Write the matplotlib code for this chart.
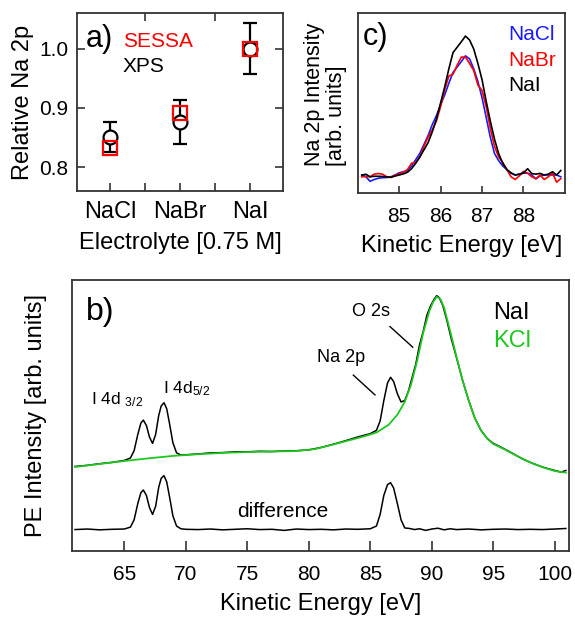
import numpy as np
import matplotlib.pyplot as plt

plt.rcParams['font.family'] = ['Liberation Sans', 'DejaVu Sans']
plt.rcParams['mathtext.fontset'] = 'custom'
plt.rcParams['mathtext.rm'] = 'Liberation Sans'
plt.rcParams['mathtext.it'] = 'Liberation Sans'

# ---- a) relative Na 2p signal vs electrolyte
salts = ['NaCl', 'NaBr', 'NaI']
xps_rel = [0.851, 0.877, 1.000]
xps_err = [0.025, 0.037, 0.043]
sessa_rel = [0.832, 0.891, 1.000]

# ---- c) Na 2p region, normalised spectra
c_ev = [84.1, 84.2, 84.3, 84.4, 84.5, 84.6, 84.7, 84.8, 84.9, 85.0,
        85.1, 85.2, 85.3, 85.4, 85.5, 85.6, 85.7, 85.8, 85.9, 86.0,
        86.1, 86.2, 86.3, 86.4, 86.5, 86.6, 86.7, 86.8, 86.9, 87.0,
        87.1, 87.2, 87.3, 87.4, 87.5, 87.6, 87.7, 87.8, 87.9, 88.0,
        88.1, 88.2, 88.3, 88.4, 88.5, 88.6, 88.7, 88.8, 88.9]
c_nacl = [0.100, 0.090, 0.065, 0.075, 0.082, 0.085, 0.086, 0.090, 0.100, 0.112,
          0.118, 0.124, 0.150, 0.185, 0.220, 0.270, 0.320, 0.380, 0.430, 0.490,
          0.545, 0.610, 0.670, 0.700, 0.730, 0.762, 0.745, 0.690, 0.620, 0.530,
          0.420, 0.310, 0.220, 0.180, 0.150, 0.130, 0.110, 0.100, 0.105, 0.110,
          0.110, 0.100, 0.078, 0.095, 0.100, 0.100, 0.100, 0.100, 0.090]
c_nabr = [0.090, 0.092, 0.090, 0.105, 0.108, 0.105, 0.090, 0.087, 0.098, 0.106,
          0.115, 0.130, 0.165, 0.170, 0.200, 0.260, 0.310, 0.350, 0.400, 0.480,
          0.575, 0.650, 0.660, 0.710, 0.755, 0.755, 0.720, 0.680, 0.600, 0.570,
          0.480, 0.360, 0.260, 0.200, 0.170, 0.130, 0.090, 0.075, 0.095, 0.120,
          0.110, 0.090, 0.080, 0.100, 0.075, 0.090, 0.110, 0.060, 0.080]
c_nai = [0.100, 0.104, 0.090, 0.093, 0.093, 0.092, 0.090, 0.087, 0.094, 0.100,
         0.106, 0.115, 0.135, 0.165, 0.200, 0.240, 0.280, 0.340, 0.410, 0.500,
         0.590, 0.690, 0.780, 0.810, 0.840, 0.872, 0.850, 0.800, 0.720, 0.630,
         0.510, 0.400, 0.300, 0.220, 0.165, 0.130, 0.112, 0.100, 0.104, 0.112,
         0.135, 0.108, 0.105, 0.109, 0.100, 0.105, 0.118, 0.100, 0.125]

# ---- b) NaI and KCl spectra and their difference
nai_ev = [61.0, 62.0, 63.0, 64.0, 65.0, 65.5, 65.8, 66.1, 66.35, 66.55,
          66.8, 67.05, 67.3, 67.55, 67.8, 68.0, 68.23, 68.45, 68.7, 68.95,
          69.25, 69.6, 70.0, 71.0, 72.0, 73.0, 74.0, 75.0, 76.0, 77.0,
          78.0, 79.0, 80.0, 81.0, 82.0, 83.0, 84.0, 85.0, 85.5, 85.8,
          86.1, 86.4, 86.65, 86.9, 87.2, 87.5, 87.8, 88.1, 88.4, 88.7,
          89.0, 89.3, 89.6, 89.9, 90.2, 90.4, 90.6, 90.9, 91.2, 91.6,
          92.0, 92.5, 93.0, 93.5, 94.0, 94.5, 95.0, 95.5, 96.0, 96.5,
          97.0, 97.5, 98.0, 98.5, 99.0, 99.5, 100.0, 100.5, 100.9]
nai = [0.312, 0.316, 0.322, 0.327, 0.334, 0.343, 0.370, 0.430, 0.472, 0.483,
       0.463, 0.420, 0.397, 0.430, 0.500, 0.535, 0.547, 0.525, 0.465, 0.400,
       0.362, 0.354, 0.355, 0.358, 0.362, 0.363, 0.366, 0.366, 0.368, 0.367,
       0.369, 0.370, 0.373, 0.382, 0.394, 0.407, 0.421, 0.433, 0.445, 0.480,
       0.555, 0.620, 0.641, 0.625, 0.580, 0.550, 0.555, 0.590, 0.640, 0.690,
       0.760, 0.810, 0.870, 0.905, 0.930, 0.942, 0.935, 0.905, 0.855, 0.780,
       0.715, 0.630, 0.555, 0.490, 0.445, 0.415, 0.397, 0.386, 0.374, 0.362,
       0.349, 0.337, 0.327, 0.318, 0.310, 0.303, 0.297, 0.291, 0.297]

kcl_ev = [61.0, 63.0, 65.0, 67.0, 69.0, 71.0, 73.0, 75.0, 77.0, 79.0,
          80.5, 82.0, 83.5, 84.5, 85.5, 86.5, 87.2, 87.8, 88.3, 88.8,
          89.3, 89.8, 90.1, 90.4, 90.7, 91.0, 91.5, 92.0, 92.5, 93.0,
          93.5, 94.0, 94.5, 95.0, 96.0, 97.0, 98.0, 99.0, 100.0, 100.9]
kcl = [0.310, 0.321, 0.332, 0.342, 0.351, 0.357, 0.362, 0.365, 0.367, 0.369,
       0.376, 0.393, 0.411, 0.423, 0.437, 0.466, 0.503, 0.550, 0.612, 0.700,
       0.805, 0.885, 0.918, 0.938, 0.930, 0.898, 0.810, 0.718, 0.630, 0.555,
       0.490, 0.445, 0.415, 0.395, 0.373, 0.349, 0.327, 0.309, 0.295, 0.289]

diff_ev = [61.0, 62.0, 63.0, 64.0, 65.0, 65.5, 65.8, 66.1, 66.35, 66.55,
           66.8, 67.05, 67.3, 67.55, 67.8, 68.0, 68.23, 68.45, 68.7, 68.95,
           69.25, 69.6, 70.0, 71.0, 72.0, 73.0, 74.0, 75.0, 76.0, 77.0,
           78.0, 79.0, 80.0, 81.0, 82.0, 83.0, 84.0, 85.0, 85.5, 85.8,
           86.1, 86.4, 86.65, 86.9, 87.2, 87.5, 87.8, 88.2, 88.6, 89.0,
           89.5, 90.0, 90.5, 91.0, 91.5, 92.0, 93.0, 94.0, 95.0, 96.0,
           97.0, 98.0, 99.0, 100.0, 100.9]
diff = [0.079, 0.081, 0.078, 0.080, 0.081, 0.088, 0.115, 0.175, 0.215, 0.225,
        0.205, 0.160, 0.135, 0.165, 0.235, 0.268, 0.278, 0.255, 0.195, 0.130,
        0.092, 0.082, 0.080, 0.079, 0.081, 0.078, 0.080, 0.082, 0.079, 0.080,
        0.076, 0.081, 0.079, 0.080, 0.078, 0.081, 0.080, 0.082, 0.092, 0.135,
        0.205, 0.245, 0.252, 0.232, 0.175, 0.115, 0.085, 0.083, 0.079, 0.082,
        0.076, 0.081, 0.084, 0.078, 0.082, 0.079, 0.081, 0.078, 0.080, 0.081,
        0.079, 0.080, 0.079, 0.081, 0.083]

spine_col = '#333333'
green = '#1ec81e'

fig = plt.figure(figsize=(5.75, 6.23), dpi=100)
ax_a = fig.add_axes([0.1339, 0.6934, 0.3583, 0.2857])
ax_c = fig.add_axes([0.622, 0.6902, 0.3605, 0.2889])
ax_b = fig.add_axes([0.1252, 0.1156, 0.8643, 0.435])

for ax in (ax_a, ax_b, ax_c):
    for s in ax.spines.values():
        s.set_color(spine_col)
        s.set_linewidth(1.3)

# panel a
pos = np.arange(1, len(salts) + 1)
ax_a.errorbar(pos, xps_rel, yerr=xps_err, fmt='none', ecolor='k',
              elinewidth=1.6, capsize=5, capthick=1.6, zorder=2)
ax_a.plot(pos, xps_rel, 'o', ms=10, mfc='white', mec='k', mew=1.6, zorder=3)
ax_a.plot(pos, sessa_rel, 's', ms=10, mfc='none', mec='red', mew=1.6, zorder=4)
ax_a.set_xlim(0.53, 3.47)
ax_a.set_ylim(0.76, 1.06)
ax_a.set_xticks(pos, salts)
ax_a.set_xticks([1.5, 2.5], minor=True)
ax_a.set_yticks([0.8, 0.9, 1.0], ['0.8', '0.9', '1.0'])
ax_a.tick_params(which='both', direction='in', length=6, width=1.2, color=spine_col)
ax_a.tick_params(axis='y', right=True, labelsize=15, pad=6)
ax_a.tick_params(axis='x', which='minor', top=True)
ax_a.tick_params(axis='x', labelsize=17, pad=7)
ax_a.set_xlabel('Electrolyte [0.75 M]', fontsize=17)
ax_a.set_ylabel('Relative Na 2p', fontsize=17)
ax_a.xaxis.set_label_coords(0.5, -0.23)
ax_a.yaxis.set_label_coords(-0.21, 0.5)
ax_a.text(0.044, 0.811, 'a)', transform=ax_a.transAxes, fontsize=22)
ax_a.text(0.223, 0.809, 'SESSA', transform=ax_a.transAxes, fontsize=15, color='red')
ax_a.text(0.223, 0.670, 'XPS', transform=ax_a.transAxes, fontsize=15, color='k')

# panel c
ax_c.plot(c_ev, c_nacl, color='#1a1aff', lw=1.2)
ax_c.plot(c_ev, c_nabr, color='#ff0000', lw=1.2)
ax_c.plot(c_ev, c_nai, color='k', lw=1.2)
ax_c.set_xlim(84.0, 89.0)
ax_c.set_ylim(0, 1)
ax_c.set_xticks([85, 86, 87, 88])
ax_c.set_yticks([])
ax_c.tick_params(axis='x', direction='in', length=5, width=1.2, color=spine_col,
                 labelsize=15, pad=10)
ax_c.set_xlabel('Kinetic Energy [eV]', fontsize=17)
ax_c.xaxis.set_label_coords(0.5, -0.235)
ax_c.set_ylabel('Na 2p Intensity\n[arb. units]', fontsize=15.5,
                multialignment='left', linespacing=1.05)
ax_c.yaxis.set_label_coords(-0.05, 0.55)
ax_c.text(0.026, 0.822, 'c)', transform=ax_c.transAxes, fontsize=22)
ax_c.text(0.727, 0.85, 'NaCl', transform=ax_c.transAxes, fontsize=15, color='#1a1aff')
ax_c.text(0.727, 0.707, 'NaBr', transform=ax_c.transAxes, fontsize=15, color='#ff0000')
ax_c.text(0.727, 0.568, 'NaI', transform=ax_c.transAxes, fontsize=15, color='k')

# panel b
ax_b.plot(nai_ev, nai, color='k', lw=1.1)
ax_b.plot(kcl_ev, kcl, color=green, lw=1.3)
ax_b.plot(diff_ev, diff, color='k', lw=1.1)
ax_b.set_xlim(60.75, 101.15)
ax_b.set_ylim(0, 1)
ax_b.set_xticks(np.arange(65, 101, 5))
ax_b.set_yticks([])
ax_b.tick_params(axis='x', direction='in', length=7.5, width=1.2, color=spine_col,
                 labelsize=15, pad=10)
ax_b.set_xlabel('Kinetic Energy [eV]', fontsize=17)
ax_b.xaxis.set_label_coords(0.5, -0.155)
ax_b.set_ylabel('PE Intensity [arb. units]', fontsize=17)
ax_b.yaxis.set_label_coords(-0.05, 0.5)

ax_b.text(61.89, 0.852, 'b)', fontsize=23)
ax_b.text(94.95, 0.855, 'NaI', fontsize=17, color='k')
ax_b.text(94.95, 0.752, 'KCl', fontsize=17, color=green)
ax_b.text(62.29, 0.541, r'I 4d $_{3/2}$', fontsize=12.5)
ax_b.text(68.12, 0.582, r'I 4d$_{5/2}$', fontsize=12.5)
ax_b.text(80.64, 0.696, 'Na 2p', fontsize=13)
ax_b.text(83.49, 0.867, 'O 2s', fontsize=13)
ax_b.text(74.14, 0.127, 'difference', fontsize=15)
ax_b.plot([83.62, 85.38], [0.649, 0.576], color='k', lw=1.0)
ax_b.plot([86.6, 88.45], [0.828, 0.752], color='k', lw=1.0)

fig.savefig('out.png', dpi=100)
